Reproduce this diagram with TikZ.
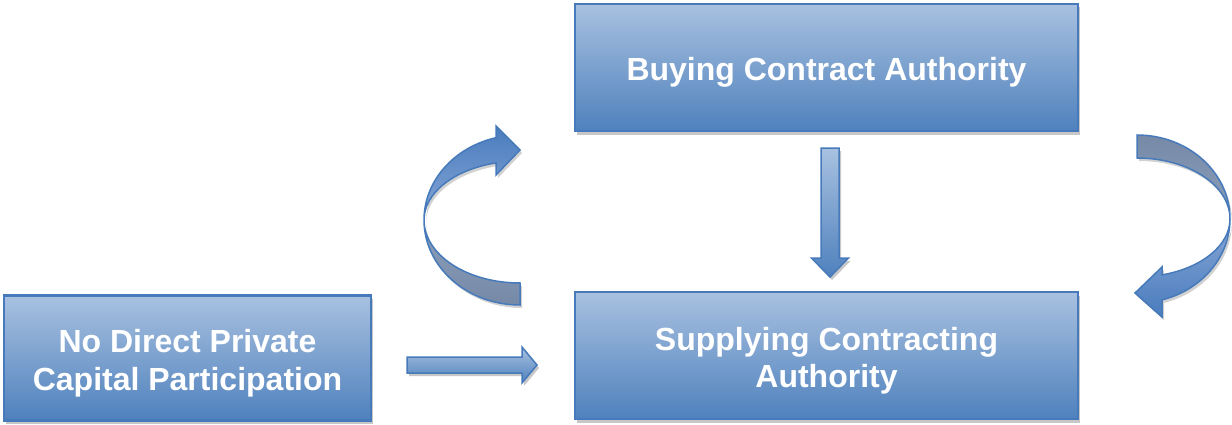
\documentclass[tikz,border=0pt]{standalone}
\usepackage{fontspec}
\setmainfont{Liberation Sans}
\usetikzlibrary{shapes,arrows,positioning,calc,shadows}

\definecolor{boxlight}{RGB}{168,193,224}
\definecolor{boxdark}{RGB}{79,129,189}
\definecolor{boxline}{RGB}{70,122,186}
\definecolor{backlight}{RGB}{140,159,186}
\definecolor{backdark}{RGB}{118,138,168}
\definecolor{frontlight}{RGB}{135,167,215}
\definecolor{frontdark}{RGB}{74,124,189}

% box text, set a little lower than the centre
\newcommand\boxlabel[1]{\raisebox{-6pt}[\height][\depth]{\begin{tabular}{@{}c@{}}#1\end{tabular}}}

\begin{document}
\begin{tikzpicture}[x=1pt, y=1pt,
    box/.style={rectangle, draw=boxline, line width=2.5pt, top color=boxlight, bottom color=boxdark,
        minimum width=503pt, minimum height=127pt, inner sep=0pt, outer sep=0pt,
        text=white, font=\bfseries\fontsize{32}{37.5}\selectfont,
        drop shadow={shadow xshift=1.5pt, shadow yshift=-3.5pt, fill=black!22, opacity=1}},
    flatarrow/.style={draw=boxline, line width=1.5pt, line join=miter, top color=boxlight, bottom color=boxdark,
        drop shadow={shadow xshift=2pt, shadow yshift=-3pt, fill=black!22, opacity=1}},
    backband/.style={draw=boxline, line width=1.5pt,
        drop shadow={shadow xshift=2pt, shadow yshift=-3pt, fill=black!18, opacity=1}},
    frontband/.style={draw=boxline, line width=1.5pt, line join=miter,
        drop shadow={shadow xshift=2pt, shadow yshift=-3pt, fill=black!18, opacity=1}}]
    \useasboundingbox (0,0) rectangle (1232,424);

    \node (buy) [box] at (826.5,356.5) {\boxlabel{Buying Contract Authority}};
    \node (supply) [box, below=161pt of buy] {\boxlabel{Supplying Contracting\\Authority}};
    \node (nodirect) [box, minimum width=367pt, minimum height=125pt, left=204pt of supply, yshift=-2.5pt] {\boxlabel{No Direct Private\\Capital Participation}};

    % straight block arrows
    \coordinate (dtop) at ($(buy.south)+(3.5,-17)$);
    \draw[flatarrow] ($(dtop)+(-9,0)$) -- ++(0,-110) -- ++(-9.5,0) -- ++(18.5,-19) -- ++(18.5,19) -- ++(-9.5,0) -- ++(0,110) -- cycle;
    \coordinate (rstart) at ($(nodirect.east)+(36,-7)$);
    \draw[flatarrow] ($(rstart)+(0,8)$) -- ++(115,0) -- ++(0,10) -- ++(15,-18) -- ++(-15,-18) -- ++(0,10) -- ++(-115,0) -- cycle;

    % curved arrow, left
    \coordinate (lcurve) at ($(supply.north west)+(-55,72)$);
    \begin{scope}[shift={(lcurve)}]
        \draw[backband, top color=backlight, bottom color=backdark] (0,-85) arc[start angle=270, end angle=180, x radius=96, y radius=85]
            arc[start angle=180, end angle=270, x radius=96, y radius=63] -- cycle;
        \draw[frontband, top color=frontdark, bottom color=frontlight] (-96,0) arc[start angle=180, end angle=104.48, x radius=96, y radius=85]
            -- (-24,94) -- (0,70) -- (-24,45) -- (-24,57.1) arc[start angle=104.48, end angle=180, x radius=96, y radius=59] -- cycle;
    \end{scope}

    % curved arrow, right
    \coordinate (rcurve) at ($(supply.north east)+(59,73)$);
    \begin{scope}[shift={(rcurve)}]
        \draw[backband, top color=backdark, bottom color=backlight] (0,84) arc[start angle=90, end angle=0, x radius=93, y radius=84]
            arc[start angle=0, end angle=90, x radius=93, y radius=61] -- cycle;
        \draw[frontband, top color=frontlight, bottom color=frontdark] (93,0) arc[start angle=0, end angle=-74.4, x radius=93, y radius=84]
            -- (25,-98) -- (-2,-74) -- (25,-48) -- (25,-55.9) arc[start angle=-74.4, end angle=0, x radius=93, y radius=58] -- cycle;
    \end{scope}
\end{tikzpicture}
\end{document}
